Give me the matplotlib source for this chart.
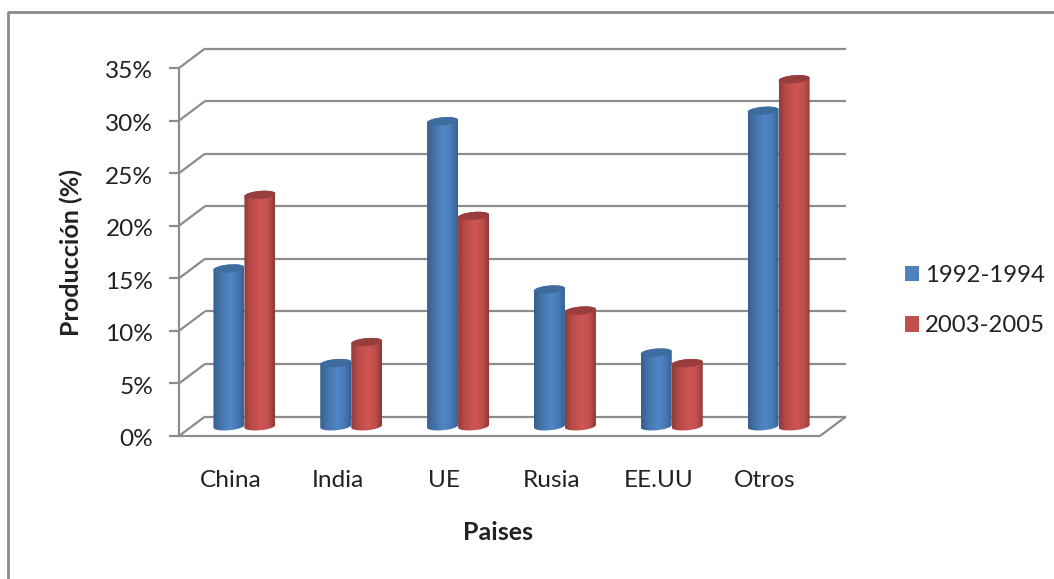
import matplotlib
matplotlib.use("Agg")
import matplotlib.pyplot as plt
import numpy as np
from matplotlib.colors import LinearSegmentedColormap
from matplotlib.path import Path
from matplotlib.patches import PathPatch
from matplotlib.transforms import ScaledTranslation

paises = ["China", "India", "UE", "Rusia", "EE.UU", "Otros"]
periodo_1 = [15, 6, 29, 13, 7, 30]
periodo_2 = [22, 8, 20, 11, 6, 33]
series_names = ["1992-1994", "2003-2005"]
y_ticks = [0, 5, 10, 15, 20, 25, 30, 35]

GRID = "#8c8c8c"
TEXT = "#222222"
plt.rcParams["font.family"] = ["Lato", "DejaVu Sans"]

W, H = 1054, 579
fig = plt.figure(figsize=(W / 100, H / 100), dpi=100, facecolor="white")
ax = fig.add_axes([179 / W, 1 - 436 / H, 641 / W, 368 / H])
ax.set_xlim(-0.5, 5.5)
ax.set_ylim(0, 35)
ax.patch.set_visible(False)
for side in ax.spines.values():
    side.set_visible(False)

# depth of the fake 3d box, in data units
depth_x = 26 / (641 / 6)
depth_y = 19.5 / (368 / 35)
x0, x1 = -0.5, 5.5


def box_line(xs, ys):
    ax.plot(xs, ys, color=GRID, lw=1.6, clip_on=False, zorder=1, solid_capstyle="butt")


for level in y_ticks:
    box_line([x0 + depth_x, x1 + depth_x], [level + depth_y] * 2)
    box_line([x0, x0 + depth_x], [level, level + depth_y])
box_line([x0, x0], [0, 35])
box_line([x0, x1], [0, 0])
box_line([x1, x1 + depth_x], [0, depth_y])

ax.set_yticks(y_ticks)
ax.set_yticklabels([f"{v}%" for v in y_ticks])
ax.set_xticks(np.arange(len(paises)) - 0.015)
ax.set_xticklabels(paises)
ax.tick_params(axis="y", length=7, width=1.6, color=GRID, pad=11.5, labelsize=17.6, labelcolor=TEXT)
ax.tick_params(axis="x", length=0, pad=24.5, labelsize=17.6, labelcolor=TEXT)
# nudge the percent labels down a little
for lab in ax.get_yticklabels():
    lab.set_transform(lab.get_transform() + ScaledTranslation(0, -0.02, fig.dpi_scale_trans))
ax.set_ylabel("Producción (%)", fontsize=18, fontweight="bold", color=TEXT)
ax.yaxis.set_label_coords((71 - 179) / 641, (436 - 252) / 368)
ax.set_xlabel("Paises", fontsize=18, fontweight="bold", color=TEXT)
ax.xaxis.set_label_coords((498 - 179) / 641, (436 - 532) / 368)
ax.xaxis.label.set_verticalalignment("center")
ax.yaxis.label.set_verticalalignment("center")

bar_w = 31 / (641 / 6)
ry = 4.0 / (368 / 35)
tilt = 1.3 / (368 / 35)
t = np.linspace(0, 2 * np.pi, 90)


def ring(cx, cy):
    return cx + bar_w / 2 * np.cos(t), cy + ry * np.sin(t) + tilt * np.cos(t)


def cylinder(cx, value, base, cmap, top_color):
    xs_top, ys_top = ring(cx, value + base)
    xs_bot, ys_bot = ring(cx, base)
    # outline: lower half of the base ring, then upper half of the top ring
    low = t >= np.pi
    high = t <= np.pi
    px = np.r_[xs_bot[low], xs_top[high]]
    py = np.r_[ys_bot[low], ys_top[high]]
    body = PathPatch(Path(np.c_[px, py]), transform=ax.transData, fc="none", ec="none")
    ax.add_patch(body)
    img = ax.imshow(
        np.linspace(0, 1, 256)[None, :],
        extent=(cx - bar_w / 2, cx + bar_w / 2, base - 1, base + value + 1),
        cmap=cmap, aspect="auto", zorder=3, clip_on=True,
    )
    img.set_clip_path(body)
    ax.fill(xs_top, ys_top, color=top_color, zorder=3.1, lw=0, clip_on=False)


blue = LinearSegmentedColormap.from_list(
    "azul", [(0, "#365f8f"), (0.22, "#4472a8"), (0.55, "#5087c8"), (0.8, "#4679b4"), (1, "#375f90")])
red = LinearSegmentedColormap.from_list(
    "rojo", [(0, "#8e3b39"), (0.22, "#b84b49"), (0.55, "#cf5654"), (0.8, "#bd4e4b"), (1, "#8a3937")])

base = depth_y / 2
shift = depth_x / 2 - 1 / (641 / 6)
for i, (v1, v2) in enumerate(zip(periodo_1, periodo_2)):
    cx = i + shift
    cylinder(cx - bar_w / 2, v1, base, blue, "#3e6c9f")
    cylinder(cx + bar_w / 2, v2, base, red, "#983f3d")

# flat bars only carry the legend entries, the cylinders sit on top of them
centers = np.arange(len(paises)) + shift
b1 = ax.bar(centers - bar_w / 2, periodo_1, bar_w * 0.7, bottom=base, color="#4f81bd",
            label=series_names[0], zorder=2)
b2 = ax.bar(centers + bar_w / 2, periodo_2, bar_w * 0.7, bottom=base, color="#c0504d",
            label=series_names[1], zorder=2)
ax.set_xlim(x0, x1)
ax.set_ylim(0, 35)

fig.legend(handles=[b1, b2], loc="center left", bbox_to_anchor=(905 / W, 1 - 300.5 / H),
           frameon=False, fontsize=17.2, labelcolor=TEXT, handlelength=0.6, handleheight=0.6,
           handletextpad=0.25, labelspacing=1.25, borderpad=0, borderaxespad=0)

# outer chart frame, open towards the right and bottom of the image
fig.add_artist(plt.Line2D([7.5 / W, 7.5 / W, 1], [0, 1 - 11.5 / H, 1 - 11.5 / H],
                          color="#8a8a8a", lw=2.0, transform=fig.transFigure))

fig.savefig("out.png", dpi=100)
